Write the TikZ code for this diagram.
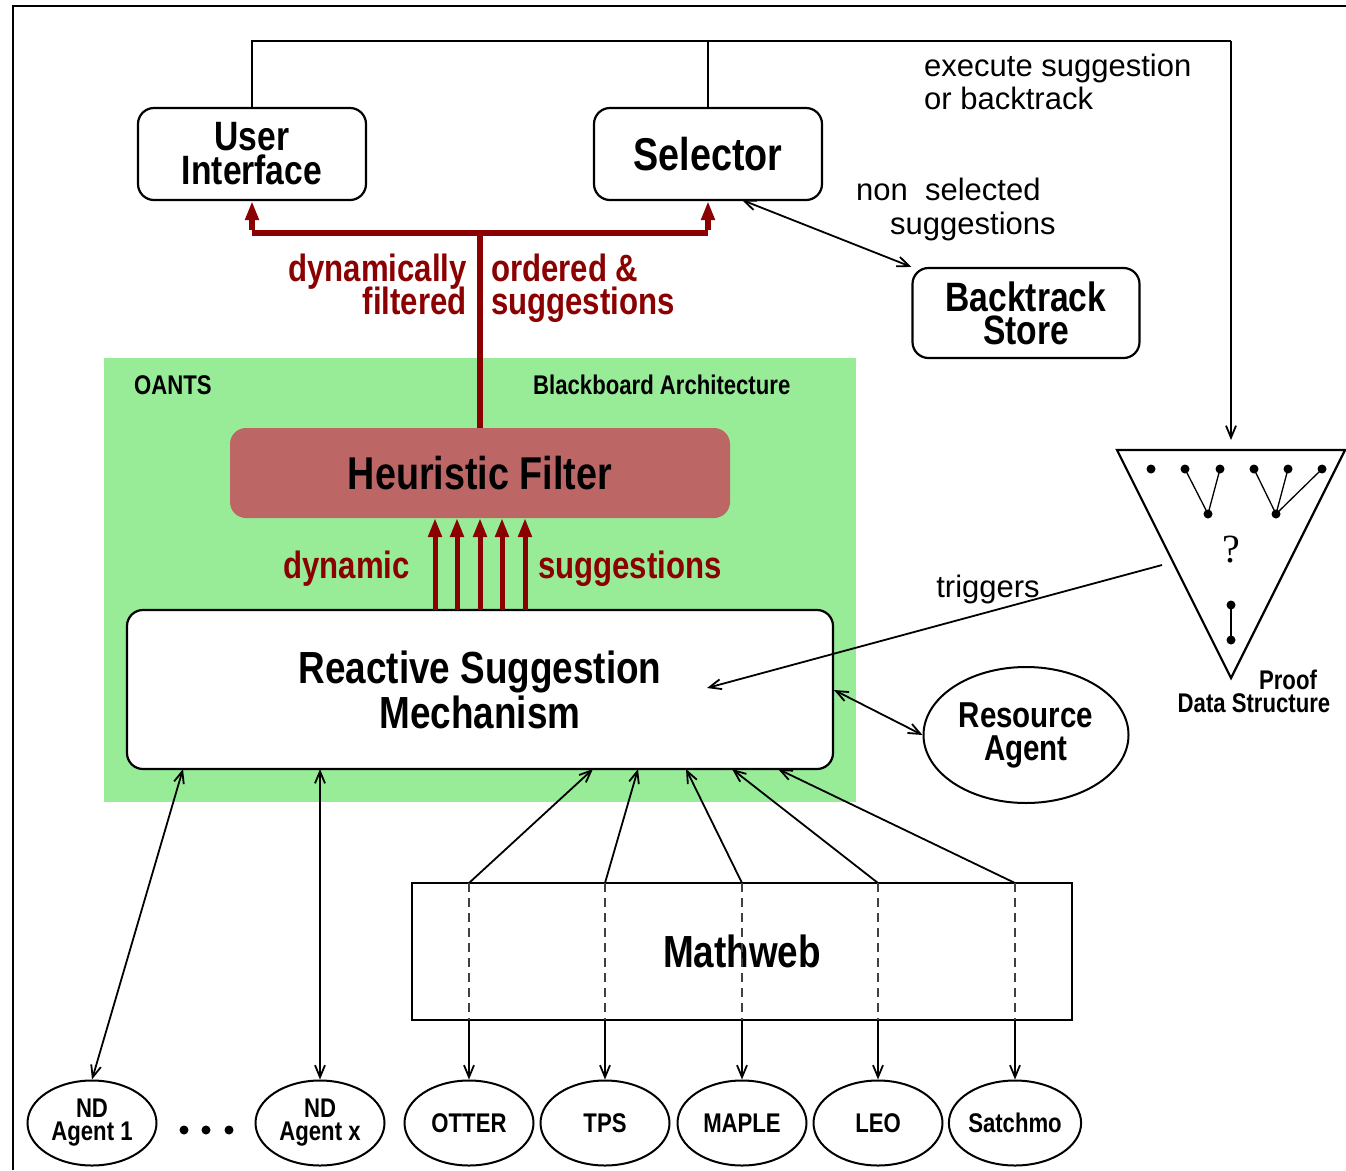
\documentclass[tikz,border=0pt]{standalone}
\usepackage{fontspec}
\setmainfont{Liberation Sans}
\newfontfamily\nb{Liberation Sans}[FakeStretch=0.82]
\newfontfamily\serf{Liberation Serif}
\usetikzlibrary{arrows.meta,shapes.geometric}
\definecolor{dred}{RGB}{139,0,0}
\definecolor{bbgreen}{RGB}{152,236,152}
\definecolor{hfill}{RGB}{188,102,102}
\begin{document}
\begin{tikzpicture}[x=1pt,y=-1pt,
  box/.style={draw,line width=2.2pt,rounded corners=16pt,inner sep=0pt,align=center},
  bf/.style={font=\nb\bfseries\fontsize{#1}{#1}\selectfont},
  ell/.style={draw,line width=2pt,ellipse,inner sep=0pt,align=center,minimum width=129pt,minimum height=85pt,font=\nb\bfseries\fontsize{27}{23}\selectfont},
  reg/.style={inner sep=0pt,font=\fontsize{31}{33}\selectfont},
  redlab/.style={inner sep=0pt,text=dred,font=\nb\bfseries\fontsize{38}{33}\selectfont},
  ln/.style={line width=1.8pt},
  arr/.style={ln,-{Straight Barb[length=12pt,width=10pt]}},
  darr/.style={ln,{Straight Barb[length=12pt,width=10pt]}-{Straight Barb[length=12pt,width=10pt]}},
  redarr/.style={draw=dred,line width=5pt,-{Triangle[length=19pt,width=13pt]},fill=dred},
  dot/.style={fill,circle,inner sep=0pt,minimum size=9pt},
]
\useasboundingbox (0,0) rectangle (1346,1170);
% frame
\draw[line width=1.5pt] (13,1170) -- (13,6) -- (1346,6);

% green area
\fill[bbgreen] (104,358) rectangle (856,802);
\node[inner sep=0pt,anchor=base west,bf=27] (oants) at (134,394) {OANTS};
\node[inner sep=0pt,anchor=base west,bf=27] (bba) at (533,394) {Blackboard Architecture};

% top boxes
\node[box,minimum width=228pt,minimum height=92pt,font=\nb\bfseries\fontsize{41}{34}\selectfont] (ui) at (252,154) {User\\Interface};
\node[box,minimum width=228pt,minimum height=92pt,font=\nb\bfseries\fontsize{46}{40}\selectfont] (sel) at (708,154) {Selector};
\node[box,minimum width=227pt,minimum height=90pt,font=\nb\bfseries\fontsize{41}{33}\selectfont] (bts) at (1026,313) {Backtrack\\Store};

% heuristic filter
\node[fill=hfill,rounded corners=16pt,minimum width=500pt,minimum height=90pt,inner sep=0pt,font=\nb\bfseries\fontsize{46}{40}\selectfont] (hf) at (480,473) {Heuristic Filter};

% RSM
\node[box,fill=white,minimum width=706pt,minimum height=159pt,font=\nb\bfseries\fontsize{45}{45}\selectfont] (rsm) at (480,689.5) {Reactive Suggestion\\Mechanism};

% Resource agent
\node[draw,line width=2pt,ellipse,inner sep=0pt,align=center,minimum width=205pt,minimum height=136pt,font=\nb\bfseries\fontsize{36}{33}\selectfont] (ra) at (1026,735) {Resource\\Agent};

% Mathweb
\node[draw,line width=2.2pt,minimum width=660pt,minimum height=137pt,inner sep=0pt,font=\nb\bfseries\fontsize{45}{45}\selectfont] (mw) at (742,951.5) {Mathweb};

% bottom ellipses
\node[ell] (nd1) at (92,1123) {ND\\Agent 1};
\node[ell] (ndx) at (320,1123) {ND\\Agent x};
\node[ell] (otter) at (469,1123) {OTTER};
\node[ell] (tps) at (605,1123) {TPS};
\node[ell] (maple) at (742,1123) {MAPLE};
\node[ell] (leo) at (878,1123) {LEO};
\node[ell] (satch) at (1015,1123) {Satchmo};
\node[dot] (d1) at (184,1130) {};
\node[dot] (d2) at (206,1130) {};
\node[dot] (d3) at (229,1130) {};

% proof data structure triangle
\coordinate (tl) at (1117,450);
\coordinate (tr) at (1345,450);
\coordinate (tb) at (1231,678);
\coordinate (ttop) at (1231,450);
\coordinate (tleft) at (1162,565);
\draw[line width=2.2pt,line join=miter] (tl) -- (tr) -- (tb) -- cycle;
\foreach \n/\x in {p1/1151,p2/1185,p3/1220,p4/1254,p5/1288,p6/1322}
  \node[dot] (\n) at (\x,469) {};
\node[dot] (q1) at (1208,514) {};
\node[dot] (q2) at (1276,514) {};
\node[dot] (r1) at (1231,605) {};
\node[dot] (r2) at (1231,640) {};
\draw[line width=1.3pt] (p2.center) -- (q1.center) -- (p3.center);
\draw[line width=1.3pt] (p4.center) -- (q2.center) -- (p5.center);
\draw[line width=1.3pt] (q2.center) -- (p6.center);
\draw[line width=1.3pt] (r1.center) -- (r2.center);
\node[inner sep=0pt,font=\serf\fontsize{40}{40}\selectfont] (qm) at (1231,550) {?};
\node[inner sep=0pt,anchor=base,bf=27] (proof) at (1288,689) {Proof};
\node[inner sep=0pt,anchor=base,bf=27] (pds) at (1254,712) {Data Structure};

% top connector
\coordinate (topR) at (1231,41);
\draw[ln] (ui.north) |- (topR);
\draw[ln] (sel.north) -- (sel.north |- topR);
\draw[arr,shorten >=10pt] (topR) -- (ttop);
\node[reg,anchor=base west] (ex1) at (924,76) {execute suggestion};
\node[reg,anchor=base west] (ex2) at (924,109) {or backtrack};

% selector <-> backtrack
\coordinate (selb) at (742,200);
\draw[darr] (selb) -- (bts.north west);
\node[reg,anchor=base west] (ns1) at (856,200) {non\ \ selected};
\node[reg,anchor=base west] (ns2) at (890,234) {suggestions};

% red connector
\coordinate (rj) at (480,233);
\draw[dred,line width=6pt] (hf.north) -- (rj);
\draw[dred,line width=6pt,line join=miter] (ui.south |- rj) -- (sel.south |- rj);
\draw[redarr,line width=6pt] ([yshift=3pt]ui.south |- rj) -- (ui.south);
\draw[redarr,line width=6pt] ([yshift=3pt]sel.south |- rj) -- (sel.south);
\node[redlab,anchor=base east] (l1) at (467,281) {dynamically};
\node[redlab,anchor=base east] (l2) at (467,314) {filtered};
\node[redlab,anchor=base west] (l3) at (491,281) {ordered \&};
\node[redlab,anchor=base west] (l4) at (491,314) {suggestions};

% five dynamic suggestion arrows
\foreach \x in {435,457,480,502,525}
  \draw[redarr] (\x,610) -- (\x,518);
\node[redlab,anchor=base east] (l5) at (410,578) {dynamic};
\node[redlab,anchor=base west] (l6) at (538,578) {suggestions};

% triggers
\coordinate (trg) at (707,688);
\draw[arr] (tleft) -- (trg);
\node[reg,anchor=base] (trig) at (988,597) {triggers};

% RSM <-> resource agent
\coordinate (rsmr) at (834,690);
\draw[darr] (rsmr) -- (ra.west);

% ND agents
\coordinate (rsm1) at (183,769);
\coordinate (rsm2) at (320,769);
\draw[darr] (rsm1) -- (nd1.north);
\draw[darr] (rsm2) -- (ndx.north);

% mathweb connections
\foreach \mx/\rx/\tgt in {469/593/otter,605/638/tps,742/686/maple,878/732/leo,1015/778/satch}{
  \draw[arr] (\mx,883) -- (\rx,769);
  \draw[line width=1.2pt,black!75,dash pattern=on 9pt off 6pt] (\mx,883) -- (\mx,1020);
  \draw[arr] (\mx,1020) -- (\tgt.north);
}
\end{tikzpicture}
\end{document}
